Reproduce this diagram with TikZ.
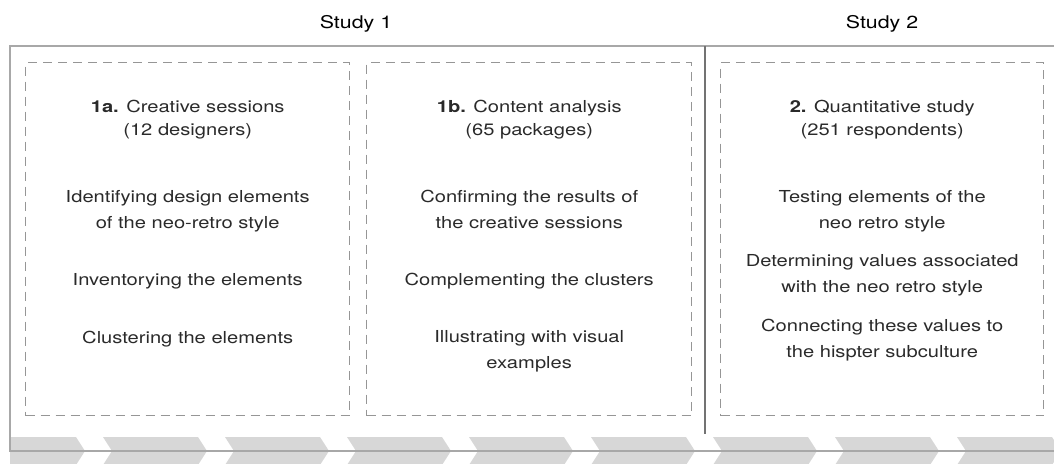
\documentclass[tikz,border=0pt]{standalone}
\usepackage{fontspec}
\setmainfont{TeX Gyre Heros}[FakeStretch=1.22]
\usepackage{tikz}
\definecolor{framegray}{HTML}{A8A8A8}
\definecolor{dashgray}{HTML}{969696}
\definecolor{chevgray}{HTML}{D7D7D7}
\definecolor{txtgray}{HTML}{2A2A2A}
\tikzset{
	every node/.style = {inner sep = 0, text=txtgray},
	title/.style = {font=\fontsize{17.5}{20}\selectfont, anchor=base, text=black},
	head/.style = {align=center, anchor=base, font=\fontsize{16.5}{22.5}\selectfont},
	item/.style = {align=center, anchor=base, font=\fontsize{16.5}{25.5}\selectfont},
	dashbox/.style = {draw=dashgray, line width=1.4pt, dash pattern=on 9pt off 6pt, minimum height=353, anchor=north west}
}

\begin{document}
\begin{tikzpicture}[x=1pt, y=-1pt]
		\useasboundingbox (0,0) rectangle (1054,463);
		% bottom arrows
		\begin{scope}
			\clip (10,0) rectangle (1054,463);
			\foreach \k in {0,...,8}{
				\fill[chevgray] ({-19+122*\k},437) -- ++(95,0) -- ++(9,14) -- ++(-9,14) -- ++(-95,0) -- ++(9,-14) -- cycle;
			}
		\end{scope}
		% frame and divider
		\draw[framegray, line width=1.2pt] (1054,46) -- (10,46) -- (10,451) -- (1054,451);
		\draw[black!55, line width=1.1pt] (705,46) -- (705,434);
		
		\node[title] (study1) at (356,28) {Study 1};
		\node[title] (study2) at (882,28) {Study 2};
		
		\node[dashbox, minimum width=324] (sessions) at (25,62) {};
		\node[dashbox, minimum width=325] (content) at (366,62) {};
		\node[dashbox, minimum width=323] (quant) at (720,62) {};
		
		% base = baseline of the last line
		\node[head] (sessionshead) at (sessions.north |- 0,135) {\textbf{1a.} Creative sessions\\(12 designers)};
		\node[item] (identify) at (sessions.north |- 0,228) {Identifying design elements\\of the neo-retro style};
		\node[item] (inventory) at (sessions.north |- 0,285) {Inventorying the elements};
		\node[item] (cluster) at (sessions.north |- 0,343) {Clustering the elements};
		
		\node[head] (contenthead) at (content.north |- 0,135) {\textbf{1b.} Content analysis\\(65 packages)};
		\node[item] (confirm) at (content.north |- 0,228) {Confirming the results of\\the creative sessions};
		\node[item] (complement) at (content.north |- 0,285) {Complementing the clusters};
		\node[item] (illustrate) at (content.north |- 0,368) {Illustrating with visual\\examples};
		
		\node[head] (quanthead) at (quant.north |- 0,135) {\textbf{2.} Quantitative study\\(251 respondents)};
		\node[item] (testing) at (quant.north |- 0,228) {Testing elements of the\\neo retro style};
		\node[item] (values) at (quant.north |- 0,292) {Determining values associated\\with the neo retro style};
		\node[item] (connect) at (quant.north |- 0,357) {Connecting these values to\\the hispter subculture};
\end{tikzpicture}
\end{document}
